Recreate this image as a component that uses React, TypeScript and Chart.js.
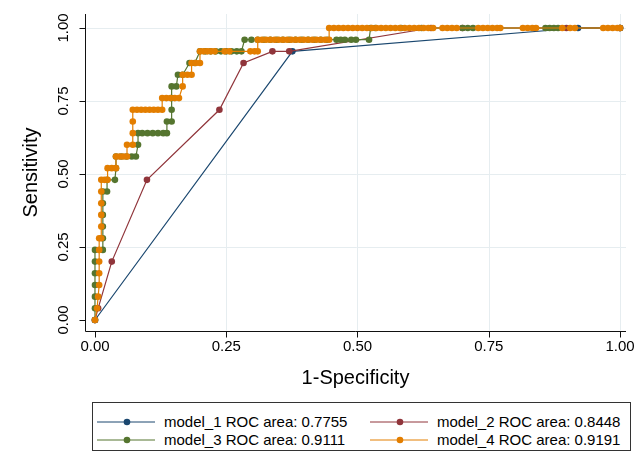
import React, { useEffect, useRef } from 'react';
import { Chart, registerables } from 'chart.js';

Chart.register(...registerables);

const FONT = '"Liberation Sans", Arial, sans-serif';

const xTicks = [0, 0.25, 0.5, 0.75, 1];
const yTicks = [0, 0.25, 0.5, 0.75, 1];
const xTickLabels = ['0.00', '0.25', '0.50', '0.75', '1.00'];
const yTickLabels = ['0.00', '0.25', '0.50', '0.75', '1.00'];
const xTitle = '1-Specificity';
const yTitle = 'Sensitivity';

const seriesNames = ['model_1', 'model_2', 'model_3', 'model_4'];
const rocAreas = ['0.7755', '0.8448', '0.9111', '0.9191'];
const seriesColors = ['#1a476f', '#90353b', '#55752f', '#e37e00'];

// model_1
const m1Fpr = [0, 0.376, 0.92, 1];
const m1Sens = [0, 0.92, 1, 1];

// model_2
const m2Fpr = [0, 0.006, 0.032, 0.099, 0.237, 0.283, 0.338, 0.37, 0.64, 0.70, 0.898, 1];
const m2Sens = [0, 0.04, 0.2, 0.48, 0.72, 0.88, 0.92, 0.92, 1, 1, 1, 1];

// model_3
const m3Fpr = [
  0, 0, 0, 0, 0, 0, 0, 0.015, 0.015, 0.015, 0.015, 0.015, 0.015, 0.023, 0.023, 0.038,
  0.04, 0.04, 0.05, 0.06, 0.07, 0.078, 0.082, 0.082, 0.09, 0.1, 0.11, 0.12, 0.13, 0.137,
  0.137, 0.146, 0.146, 0.146, 0.146, 0.155, 0.158, 0.167, 0.18, 0.19,
  0.2, 0.21, 0.22, 0.23, 0.24, 0.25, 0.26, 0.27, 0.279,
  0.285, 0.298, 0.31, 0.322, 0.334, 0.346, 0.358, 0.37, 0.382, 0.394, 0.406, 0.418, 0.43, 0.442,
  0.46, 0.468, 0.476, 0.488, 0.497, 0.522,
  0.525, 0.534, 0.583, 0.622, 0.7, 0.71, 0.72, 0.858, 0.866, 0.874, 0.882, 1,
];
const m3Sens = [
  0, 0.04, 0.08, 0.12, 0.16, 0.2, 0.24, 0.24, 0.28, 0.32, 0.36, 0.4, 0.44, 0.44, 0.48, 0.48,
  0.52, 0.56, 0.56, 0.56, 0.56, 0.56, 0.6, 0.64, 0.64, 0.64, 0.64, 0.64, 0.64, 0.64,
  0.68, 0.68, 0.72, 0.76, 0.8, 0.8, 0.84, 0.84, 0.88, 0.88,
  0.92, 0.92, 0.92, 0.92, 0.92, 0.92, 0.92, 0.92, 0.92,
  0.96, 0.96, 0.96, 0.96, 0.96, 0.96, 0.96, 0.96, 0.96, 0.96, 0.96, 0.96, 0.96, 0.96,
  0.96, 0.96, 0.96, 0.96, 0.96, 0.96,
  1, 1, 1, 1, 1, 1, 1, 1, 1, 1, 1, 1,
];

// model_4
const m4Fpr = [
  0, 0.004, 0.006, 0.008, 0.008, 0.008, 0.008, 0.008, 0.012, 0.012, 0.012, 0.012, 0.012, 0.012,
  0.018, 0.024, 0.024, 0.032, 0.04, 0.04, 0.047, 0.054, 0.061, 0.061, 0.072, 0.072, 0.072,
  0.072, 0.08, 0.088, 0.096, 0.104, 0.112, 0.12, 0.128,
  0.128, 0.136, 0.144, 0.152, 0.16, 0.167, 0.167, 0.176, 0.184, 0.184, 0.192, 0.2,
  0.2, 0.207, 0.214, 0.221, 0.228, 0.247, 0.256, 0.296, 0.304, 0.31,
  0.31, 0.318, 0.326, 0.334, 0.342, 0.35, 0.358, 0.366, 0.374, 0.382, 0.39, 0.398, 0.406, 0.414,
  0.422, 0.43, 0.438, 0.446,
  0.446, 0.455, 0.464, 0.473, 0.482, 0.491, 0.5, 0.509, 0.518, 0.527, 0.536, 0.545, 0.554,
  0.563, 0.572, 0.581, 0.59, 0.599, 0.608, 0.617, 0.626, 0.635, 0.644, 0.662, 0.671, 0.68,
  0.689, 0.73, 0.739, 0.748, 0.757, 0.766, 0.772, 0.815, 0.824, 0.833, 0.84, 0.89, 0.905,
  0.914, 0.968, 0.977, 0.986, 0.995, 1,
];
const m4Sens = [
  0, 0.04, 0.08, 0.12, 0.16, 0.2, 0.24, 0.28, 0.28, 0.32, 0.36, 0.4, 0.44, 0.48,
  0.48, 0.48, 0.52, 0.52, 0.52, 0.56, 0.56, 0.56, 0.56, 0.6, 0.6, 0.64, 0.68,
  0.72, 0.72, 0.72, 0.72, 0.72, 0.72, 0.72, 0.72,
  0.76, 0.76, 0.76, 0.76, 0.76, 0.8, 0.84, 0.84, 0.84, 0.88, 0.88, 0.88,
  0.92, 0.92, 0.92, 0.92, 0.92, 0.92, 0.92, 0.92, 0.92, 0.92,
  0.96, 0.96, 0.96, 0.96, 0.96, 0.96, 0.96, 0.96, 0.96, 0.96, 0.96, 0.96, 0.96, 0.96,
  0.96, 0.96, 0.96, 0.96,
  1, 1, 1, 1, 1, 1, 1, 1, 1, 1, 1, 1, 1,
  1, 1, 1, 1, 1, 1, 1, 1, 1, 1, 1, 1, 1,
  1, 1, 1, 1, 1, 1, 1, 1, 1, 1, 1, 1, 1,
  1, 1, 1, 1, 1, 1,
];

const seriesFpr = [m1Fpr, m2Fpr, m3Fpr, m4Fpr];
const seriesSens = [m1Sens, m2Sens, m3Sens, m4Sens];

const GRID = '#e6edf0';
const AXIS = '#111';
const TICK_LEN = 6;

// Stata-like axes: grid lines, axis lines, outward ticks, labels and titles, placed from the scales.
const axesPlugin = {
  id: 'stataAxes',
  beforeDatasetsDraw(chart: any) {
    const { ctx, chartArea } = chart;
    const xs = chart.scales.x;
    const ys = chart.scales.y;
    const L = Math.round(chartArea.left) + 0.5;
    const B = Math.round(chartArea.bottom) + 0.5;
    const T = chartArea.top;
    const R = chartArea.right;
    ctx.save();
    ctx.lineWidth = 1;
    ctx.strokeStyle = GRID;
    ctx.beginPath();
    xTicks.forEach((v) => {
      if (v === 0) return;
      const px = Math.round(xs.getPixelForValue(v)) + 0.5;
      ctx.moveTo(px, T);
      ctx.lineTo(px, B - 1);
    });
    yTicks.forEach((v) => {
      if (v === 0) return;
      const py = Math.round(ys.getPixelForValue(v)) + 0.5;
      ctx.moveTo(L + 1, py);
      ctx.lineTo(R, py);
    });
    ctx.stroke();

    ctx.strokeStyle = AXIS;
    ctx.beginPath();
    ctx.moveTo(L, T);
    ctx.lineTo(L, B);
    ctx.lineTo(R, B);
    xTicks.forEach((v) => {
      const px = Math.round(xs.getPixelForValue(v)) + 0.5;
      ctx.moveTo(px, B);
      ctx.lineTo(px, B + TICK_LEN);
    });
    yTicks.forEach((v) => {
      const py = Math.round(ys.getPixelForValue(v)) + 0.5;
      ctx.moveTo(L - TICK_LEN, py);
      ctx.lineTo(L, py);
    });
    ctx.stroke();

    ctx.fillStyle = '#000';
    ctx.font = `15px ${FONT}`;
    ctx.textAlign = 'center';
    ctx.textBaseline = 'middle';
    xTicks.forEach((v, i) => {
      ctx.fillText(xTickLabels[i], xs.getPixelForValue(v), B + 15);
    });
    yTicks.forEach((v, i) => {
      ctx.save();
      ctx.translate(L - 22, ys.getPixelForValue(v));
      ctx.rotate(-Math.PI / 2);
      ctx.fillText(yTickLabels[i], 0, 0);
      ctx.restore();
    });

    ctx.font = `20px ${FONT}`;
    ctx.fillText(xTitle, (chartArea.left + chartArea.right) / 2, B + 47);
    ctx.save();
    ctx.translate(L - 54, (chartArea.top + chartArea.bottom) / 2);
    ctx.rotate(-Math.PI / 2);
    ctx.fillText(yTitle, 0, 0);
    ctx.restore();
    ctx.restore();
  },
};

function ChartCanvas() {
  const ref = useRef<HTMLCanvasElement | null>(null);
  useEffect(() => {
    if (!ref.current) return;
    const datasets = seriesNames.map((name, i) => ({
      label: name,
      data: seriesFpr[i].map((x, j) => ({ x, y: seriesSens[i][j] })),
      showLine: true,
      borderColor: seriesColors[i],
      backgroundColor: seriesColors[i],
      borderWidth: 1.2,
      pointRadius: 3.3,
      pointBorderWidth: 0,
      pointBackgroundColor: seriesColors[i],
      order: 4 - i,
    }));
    const chart = new Chart(ref.current, {
      type: 'scatter',
      data: { datasets },
      plugins: [axesPlugin],
      options: {
        animation: false,
        responsive: false,
        devicePixelRatio: 1,
        layout: { padding: { top: 14, right: 8, bottom: 60, left: 0 } },
        plugins: { legend: { display: false }, tooltip: { enabled: false } },
        scales: {
          x: {
            type: 'linear',
            min: -0.019,
            max: 1.0114,
            afterBuildTicks: (s: any) => {
              s.ticks = xTicks.map((v) => ({ value: v }));
            },
            afterFit: (s: any) => {
              s.height = 64;
            },
            ticks: { display: false },
            grid: { display: false },
            border: { display: false },
          },
          y: {
            type: 'linear',
            min: -0.0377,
            max: 1.048,
            afterBuildTicks: (s: any) => {
              s.ticks = yTicks.map((v) => ({ value: v }));
            },
            afterFit: (s: any) => {
              s.width = 85;
            },
            ticks: { display: false },
            grid: { display: false },
            border: { display: false },
          },
        },
      } as any,
    });
    return () => chart.destroy();
  }, []);
  return <canvas ref={ref} width={634} height={455} style={{ width: 634, height: 455, display: 'block' }} />;
}

function Legend() {
  return (
    <div
      style={{
        position: 'absolute',
        left: 92,
        top: 402,
        width: 539,
        height: 49,
        border: '1px solid #333',
        boxSizing: 'border-box',
        background: '#fff',
        fontFamily: FONT,
        fontSize: 15,
        color: '#000',
      }}
    >
      {seriesNames.map((name, i) => {
        const col = i % 2;
        const row = Math.floor(i / 2);
        const left = col === 0 ? 4 : 277;
        const cy = row === 0 ? 19 : 37;
        return (
          <div key={name} style={{ position: 'absolute', left, top: cy - 9, height: 18, whiteSpace: 'nowrap' }}>
            <svg width={58} height={18} style={{ position: 'absolute', left: 0, top: 0 }}>
              <line x1={0} y1={9} x2={58} y2={9} stroke={seriesColors[i]} strokeWidth={1} />
              <circle cx={30} cy={9} r={3.3} fill={seriesColors[i]} />
            </svg>
            <span style={{ position: 'absolute', left: 67, top: 0, lineHeight: '18px' }}>
              {`${name} ROC area: ${rocAreas[i]}`}
            </span>
          </div>
        );
      })}
    </div>
  );
}

export default function App() {
  return (
    <div style={{ position: 'fixed', left: 0, top: 0, width: 634, height: 455, background: '#fff' }}>
      <ChartCanvas />
      <Legend />
    </div>
  );
}
